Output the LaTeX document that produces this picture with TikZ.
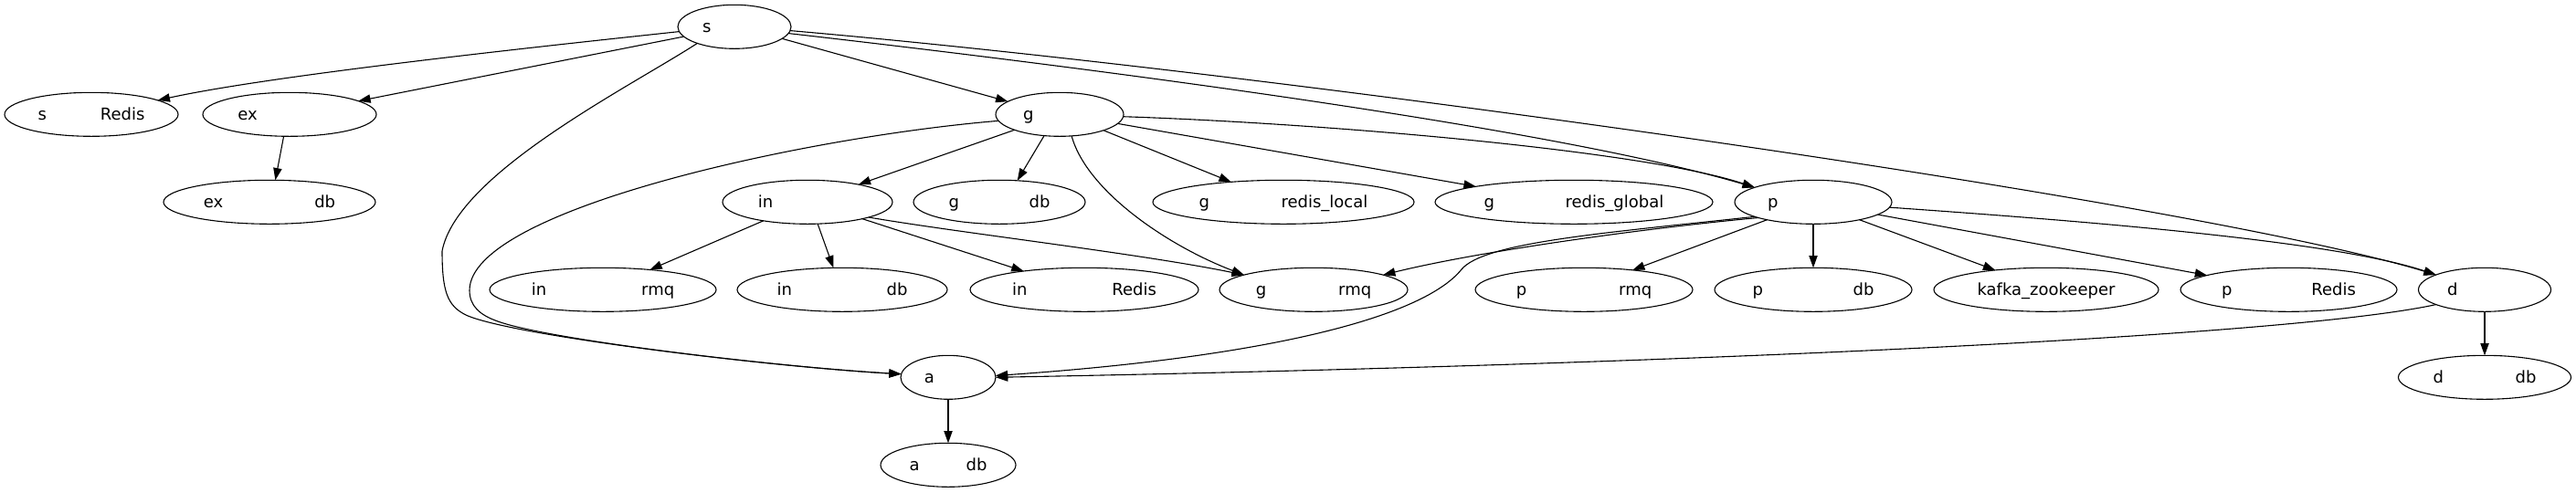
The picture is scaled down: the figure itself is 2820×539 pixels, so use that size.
\documentclass[tikz,border=0pt]{standalone}
\usepackage{fontspec}
\setmainfont{DejaVu Sans}
\usetikzlibrary{arrows.meta,shapes.geometric}
\newcommand{\twopart}[3]{#1\hspace*{#2pt}\null#3}
\begin{document}
\begin{tikzpicture}[x=1pt,y=-1pt,
  nd/.style={ellipse, draw, line width=1.1pt, inner sep=0pt, outer sep=0pt,
    minimum height=48pt, text height=15pt, text depth=3pt,
    font=\fontsize{18pt}{22pt}\selectfont},
  edge/.style={line width=1.1pt, -{Triangle[length=13.3pt,width=9.3pt]}}]
\fill[white] (0,0) rectangle (2820,539);
\useasboundingbox (0,0) rectangle (2820,539);
% row 0
\node[nd, minimum width=124pt] (s) at (804,29.3) {\twopart{s}{60.6}{}};
% row 1
\node[nd, minimum width=190pt] (sRedis) at (100,125.3) {\twopart{s}{59}{Redis}};
\node[nd, minimum width=190pt] (ex) at (317,125.3) {\twopart{ex}{92}{}};
\node[nd, minimum width=140pt] (g) at (1160,125.3) {\twopart{g}{68.6}{}};
% row 2
\node[nd, minimum width=232pt] (exdb) at (295,221.3) {\twopart{ex}{100}{db}};
\node[nd, minimum width=186pt] (in) at (884,221.3) {\twopart{in}{92}{}};
\node[nd, minimum width=188pt] (gdb) at (1094,221.3) {\twopart{g}{76.7}{db}};
\node[nd, minimum width=286pt] (grl) at (1405,221.3) {\twopart{g}{78.4}{redis\_local}};
\node[nd, minimum width=304pt] (grg) at (1723,221.3) {\twopart{g}{77.4}{redis\_global}};
\node[nd, minimum width=172pt] (p) at (1985,221.3) {\twopart{p}{88.6}{}};
% row 3
\node[nd, minimum width=248pt] (inrmq) at (660,317.3) {\twopart{in}{104}{rmq}};
\node[nd, minimum width=230pt] (indb) at (922,317.3) {\twopart{in}{103.7}{db}};
\node[nd, minimum width=250pt] (inredis) at (1187,317.3) {\twopart{in}{93}{Redis}};
\node[nd, minimum width=206pt] (grmq) at (1438,317.3) {\twopart{g}{79}{rmq}};
\node[nd, minimum width=238pt] (prmq) at (1734,317.3) {\twopart{p}{101}{rmq}};
\node[nd, minimum width=216pt] (pdb) at (1985,317.3) {\twopart{p}{98.7}{db}};
\node[nd, minimum width=246pt] (kafka) at (2240,317.3) {kafka\_zookeeper};
\node[nd, minimum width=237pt] (predis) at (2505.5,317.3) {\twopart{p}{87}{Redis}};
\node[nd, minimum width=145pt] (d) at (2720,317.3) {\twopart{d}{70.6}{}};
% row 4
\node[nd, minimum width=104pt] (a) at (1038,413.3) {\twopart{a}{41}{}};
\node[nd, minimum width=189pt] (ddb) at (2720,413.3) {\twopart{d}{78.7}{db}};
% row 5
\node[nd, minimum width=148pt] (adb) at (1038,509.3) {\twopart{a}{51}{db}};

% edges from s
\draw[edge] (s.185) .. controls (600,50) and (300,82) .. (sRedis.12);
\draw[edge] (s.191) -- (ex.11);
\draw[edge] (s.204) .. controls (690,95) and (500,190) .. (484,275)
  .. controls (484,320) and (490,335) .. (510,345)
  .. controls (560,368) and (850,402) .. (a.176);
\draw[edge] (s.-14) -- (g.166);
\draw[edge] (s.-7) .. controls (1200,75) and (1700,140) .. (p.166);
\draw[edge] (s.-4) .. controls (1400,80) and (2400,220) .. (d.163);
% ex
\draw[edge] (ex.255) -- (exdb.75);
% g
\draw[edge] (g.199) -- (in.19);
\draw[edge] (g.234) -- (gdb.50);
\draw[edge] (g.-61) .. controls (1190,210) and (1280,270) .. (grmq.168);
\draw[edge] (g.-20) -- (grl.159);
\draw[edge] (g.-9) -- (grg.171);
\draw[edge] (g.-2) .. controls (1450,135) and (1800,165) .. (p.166);
\draw[edge] (g.186) .. controls (880,150) and (514,230) .. (514,318)
  .. controls (514,335) and (525,345) .. (545,352)
  .. controls (600,372) and (850,402) .. (a.176);
% in
\draw[edge] (in.203) -- (inrmq.23);
\draw[edge] (in.-65) -- (indb.112);
\draw[edge] (in.-17) -- (inredis.163);
\draw[edge] (in.-14) .. controls (1050,255) and (1250,278) .. (grmq.168);
% p
\draw[edge] (p.196) .. controls (1800,250) and (1620,275) .. (grmq.12);
\draw[edge] (p.194) .. controls (1760,255) and (1625,265) .. (1600,295)
  .. controls (1560,345) and (1400,390) .. (a.2);
\draw[edge] (p.201) -- (prmq.22);
\draw[edge] (p.-90) -- (pdb.90);
\draw[edge] (p.-21) -- (kafka.159);
\draw[edge] (p.-11) -- (predis.170);
\draw[edge] (p.-4) .. controls (2250,240) and (2550,262) .. (d.163);
% d
\draw[edge] (d.197) .. controls (2500,370) and (1800,400) .. (a.0);
\draw[edge] (d.-90) -- (ddb.90);
% a
\draw[edge] (a.-90) -- (adb.90);
\end{tikzpicture}
\end{document}
